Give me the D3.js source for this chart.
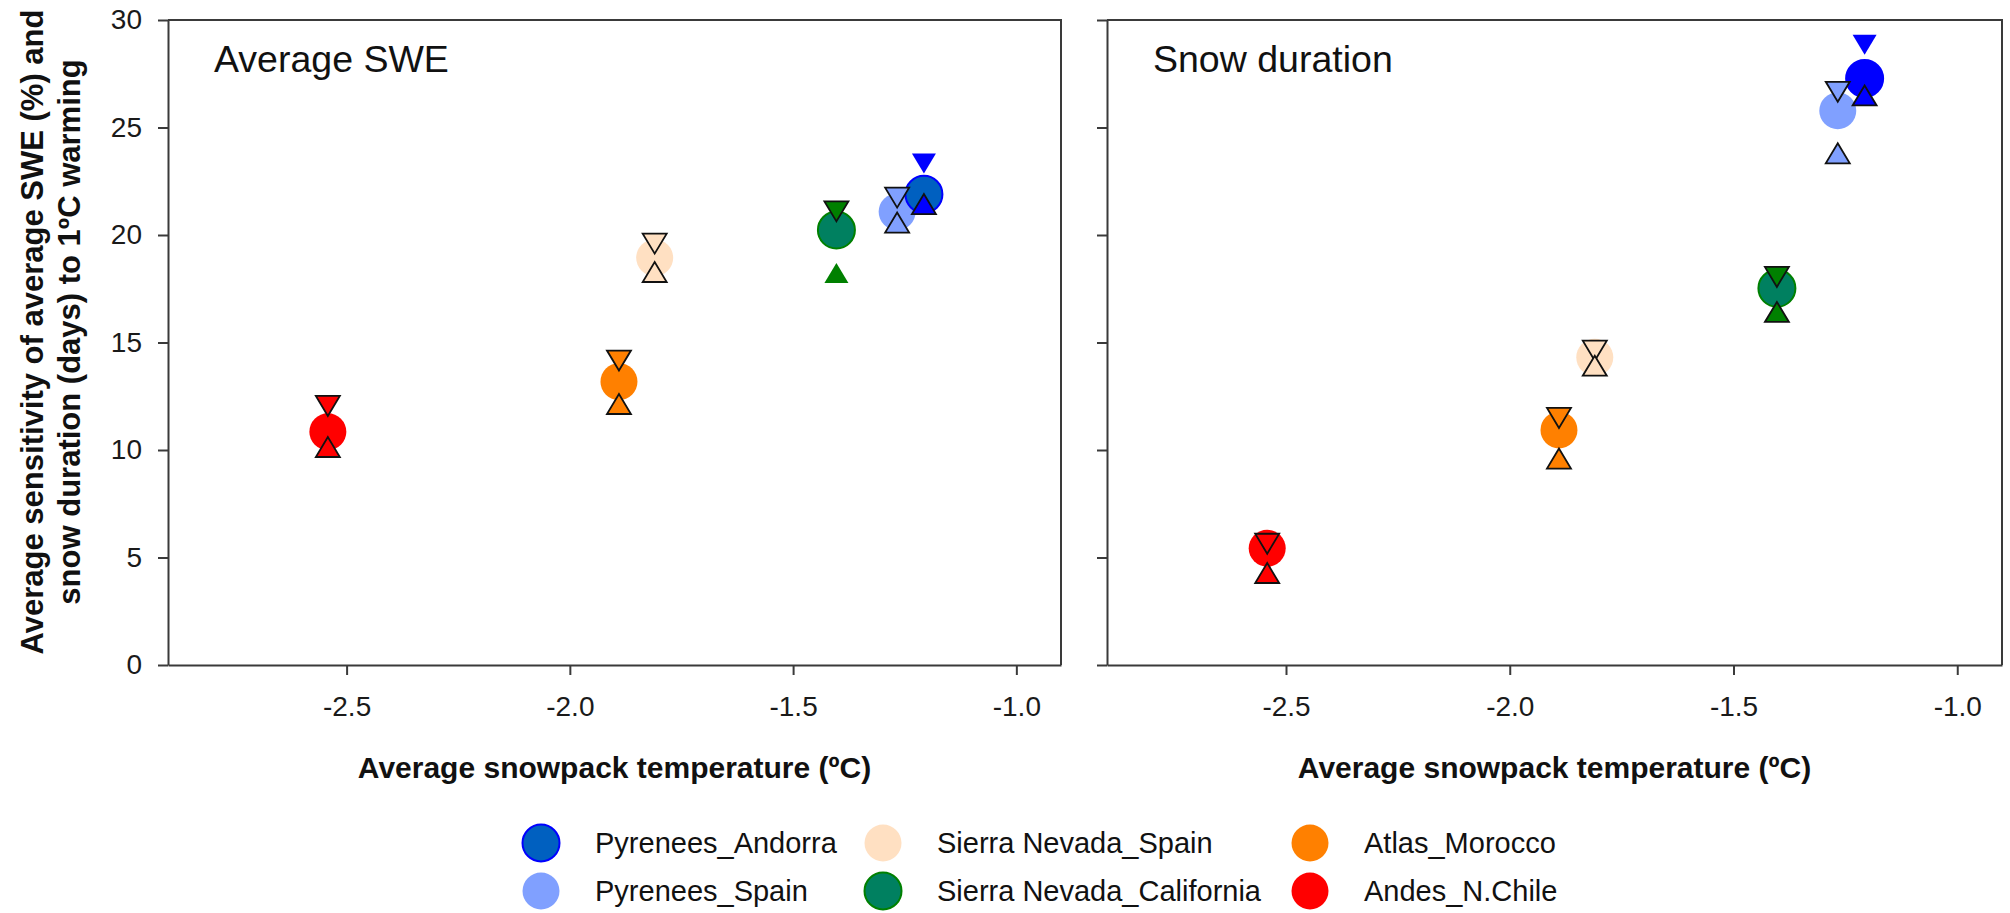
<!DOCTYPE html>
<html>
<head>
<meta charset="utf-8">
<script src="https://cdn.jsdelivr.net/npm/d3@7"></script>
<style>
  html, body { margin: 0; padding: 0; background: #fff; }
  svg { display: block; font-family: "Liberation Sans", Arial, sans-serif; }
</style>
</head>
<body>
<svg id="chart" width="2010" height="913"></svg>
<script>
// ---------------- DATA ----------------
const regions = ["Pyrenees_Andorra", "Pyrenees_Spain", "Sierra Nevada_Spain",
                 "Sierra Nevada_California", "Atlas_Morocco", "Andes_N.Chile"];
// average snowpack temperature (ºC)
const snowpackTemp = [-1.207, -1.267, -1.81, -1.403, -1.89, -2.542];
// Average SWE sensitivity (%)
const sweMean = [21.89, 21.08, 18.94, 20.23, 13.18, 10.85];
const sweDownTri = [23.32, 21.74, 19.60, 21.10, 14.16, 12.05];
const sweUpTri = [21.44, 20.58, 18.28, 18.23, 12.14, 10.14];
// Snow duration sensitivity (days)
const durMean = [27.28, 25.78, 14.31, 17.52, 10.93, 5.43];
const durDownTri = [28.85, 26.66, 14.62, 18.05, 11.49, 5.64];
const durUpTri = [26.49, 23.80, 13.92, 16.42, 9.60, 4.28];
// axis ticks
const xTicks = [-2.5, -2.0, -1.5, -1.0];
const yTicks = [0, 5, 10, 15, 20, 25, 30];
const panelTitles = ["Average SWE", "Snow duration"];
const xAxisTitle = "Average snowpack temperature (ºC)";
const yAxisTitle = ["Average sensitivity of average SWE (%) and", "snow duration (days) to 1ºC warming"];

// ---------------- STYLES ----------------
const circleFill = {
  "Pyrenees_Andorra": "#0060C0", "Pyrenees_Spain": "#80A0FF", "Sierra Nevada_Spain": "#FFE0C2",
  "Sierra Nevada_California": "#008060", "Atlas_Morocco": "#FF8000", "Andes_N.Chile": "#FF0000"
};
const circleStroke = {
  "Pyrenees_Andorra": "#0000FF", "Sierra Nevada_California": "#008000"
};
const triFill = {
  "Pyrenees_Andorra": "#0000FF", "Pyrenees_Spain": "#80A0FF", "Sierra Nevada_Spain": "#FFE0C2",
  "Sierra Nevada_California": "#008000", "Atlas_Morocco": "#FF8000", "Andes_N.Chile": "#FF0000"
};

const svg = d3.select("#chart");
const plotTop = 20, plotBottom = 665;
const panels = [
  { left: 168, right: 1061, mean: sweMean, down: sweDownTri, up: sweUpTri, title: panelTitles[0], labels: true,
    circleOverride: {}, noStroke: { down: ["Pyrenees_Andorra"], up: ["Sierra Nevada_California"] } },
  { left: 1107, right: 2002, mean: durMean, down: durDownTri, up: durUpTri, title: panelTitles[1], labels: false,
    circleOverride: { "Pyrenees_Andorra": "#0000FF" }, noStroke: { down: ["Pyrenees_Andorra"], up: [] } }
];

const y = d3.scaleLinear().domain([0, 30]).range([plotBottom, plotTop]);
const axisColor = "#3a3a3a";
const triW = 24, triH = 20;
const downPath = `M${-triW/2},${-triH/2}L${triW/2},${-triH/2}L0,${triH/2}Z`;
const upPath = `M${-triW/2},${triH/2}L${triW/2},${triH/2}L0,${-triH/2}Z`;

panels.forEach(p => {
  const x = d3.scaleLinear().domain([-2.9, -0.9]).range([p.left, p.right]);
  const g = svg.append("g");

  // frame (top and right)
  g.append("path")
    .attr("d", `M${p.left},${plotTop}L${p.right},${plotTop}L${p.right},${plotBottom}`)
    .attr("fill", "none").attr("stroke", axisColor).attr("stroke-width", 2);

  // x axis
  const xa = g.append("g").attr("transform", `translate(0,${plotBottom})`)
    .call(d3.axisBottom(x).tickValues(xTicks).tickSize(10).tickPadding(21)
      .tickFormat(d => d.toFixed(1)).tickSizeOuter(0));
  xa.select(".domain").attr("stroke", axisColor).attr("stroke-width", 2);
  xa.selectAll(".tick line").attr("stroke", axisColor).attr("stroke-width", 2);
  xa.selectAll(".tick text").attr("font-size", 28).attr("fill", "#1a1a1a")
    .attr("font-family", "'Liberation Sans', Arial, sans-serif");

  // y axis
  const ya = g.append("g").attr("transform", `translate(${p.left},0)`)
    .call(d3.axisLeft(y).tickValues(yTicks).tickSize(10).tickPadding(16)
      .tickFormat(p.labels ? d3.format("d") : () => "").tickSizeOuter(0));
  ya.select(".domain").attr("stroke", axisColor).attr("stroke-width", 2);
  ya.selectAll(".tick line").attr("stroke", axisColor).attr("stroke-width", 2);
  ya.selectAll(".tick text").attr("font-size", 28).attr("fill", "#1a1a1a")
    .attr("font-family", "'Liberation Sans', Arial, sans-serif");

  // panel title
  g.append("text").attr("x", p.left + 46).attr("y", 72)
    .attr("font-size", 37.5).attr("fill", "#111").text(p.title);

  // x axis title
  g.append("text").attr("x", (p.left + p.right) / 2).attr("y", 778)
    .attr("text-anchor", "middle").attr("font-size", 30).attr("font-weight", "bold")
    .attr("fill", "#111").text(xAxisTitle);

  const idx = d3.range(regions.length).reverse(); // Andes first ... Andorra last
  // circles
  g.selectAll("circle.mean").data(idx).join("circle")
    .attr("class", "mean")
    .attr("cx", i => x(snowpackTemp[i])).attr("cy", i => y(p.mean[i]))
    .attr("r", 18.5)
    .attr("fill", i => p.circleOverride[regions[i]] || circleFill[regions[i]])
    .attr("stroke", i => circleStroke[regions[i]] || "none")
    .attr("stroke-width", 2);
  // down triangles
  g.selectAll("path.down").data(idx).join("path")
    .attr("class", "down")
    .attr("d", downPath)
    .attr("transform", i => `translate(${x(snowpackTemp[i])},${y(p.down[i])})`)
    .attr("fill", i => triFill[regions[i]])
    .attr("stroke", i => p.noStroke.down.includes(regions[i]) ? "none" : "#111")
    .attr("stroke-width", 1.8).attr("stroke-linejoin", "miter");
  // up triangles
  g.selectAll("path.up").data(idx).join("path")
    .attr("class", "up")
    .attr("d", upPath)
    .attr("transform", i => `translate(${x(snowpackTemp[i])},${y(p.up[i])})`)
    .attr("fill", i => triFill[regions[i]])
    .attr("stroke", i => p.noStroke.up.includes(regions[i]) ? "none" : "#111")
    .attr("stroke-width", 1.8).attr("stroke-linejoin", "miter");
});

// y axis title (two lines, rotated)
const yt = svg.append("text")
  .attr("transform", `translate(0,332) rotate(-90)`)
  .attr("text-anchor", "middle").attr("font-size", 31).attr("font-weight", "bold").attr("fill", "#111");
yt.append("tspan").attr("x", 0).attr("y", 43).text(yAxisTitle[0]);
yt.append("tspan").attr("x", 0).attr("y", 80).text(yAxisTitle[1]);

// legend
const legendCols = [541, 883, 1310];
const legendRows = [843, 891];
const leg = svg.append("g");
regions.forEach((r, i) => {
  const cx = legendCols[Math.floor(i / 2)], cy = legendRows[i % 2];
  leg.append("circle").attr("cx", cx).attr("cy", cy).attr("r", 18.5)
    .attr("fill", circleFill[r]).attr("stroke", circleStroke[r] || "none").attr("stroke-width", 2);
  leg.append("text").attr("x", cx + 54).attr("y", cy).attr("dy", "0.35em")
    .attr("font-size", 29).attr("fill", "#111").text(r);
});
</script>
</body>
</html>
